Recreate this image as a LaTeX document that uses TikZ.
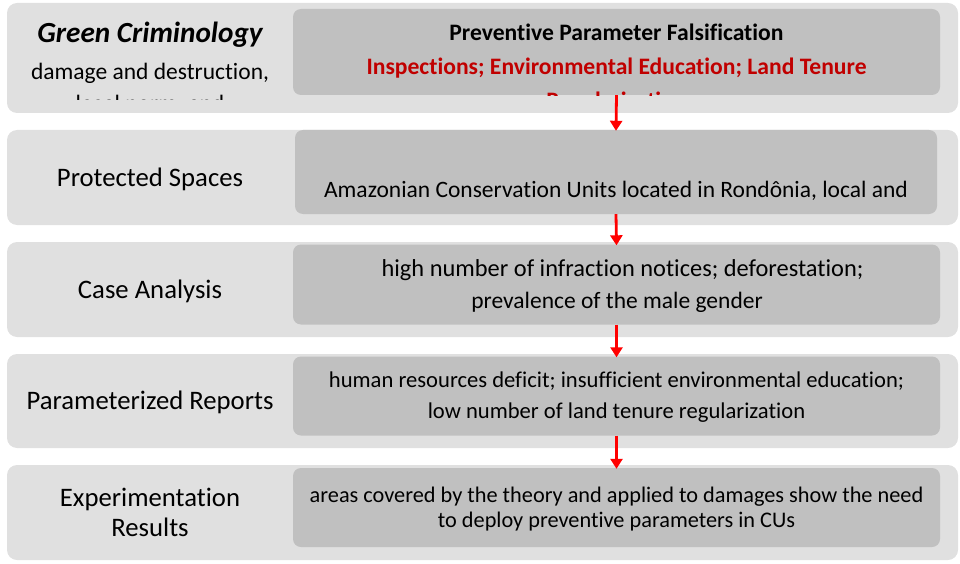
\documentclass[tikz,border=0pt]{standalone}
\usepackage{fontspec}
\setmainfont{Carlito}[Ligatures=NoCommon]
\usetikzlibrary{arrows.meta}
\definecolor{bandgray}{RGB}{224,224,224}
\definecolor{cellgray}{RGB}{192,192,192}
\definecolor{tenured}{RGB}{192,0,0}
\begin{document}
\begin{tikzpicture}[x=1pt,y=-1pt,>={Triangle[width=12pt,length=10pt]},
		band/.style={fill=bandgray,rounded corners=10pt,minimum width=951pt,inner sep=0pt},
		cell/.style={fill=cellgray,rounded corners=8pt,minimum width=647pt,inner sep=0pt},
		flow/.style={->,red,line width=2.8pt,shorten >=-1pt},
		lab/.style={font=\fontsize{26.7}{30}\selectfont,align=center,anchor=base,inner sep=0pt},
		txt/.style={font=\fontsize{23.5}{32}\selectfont,align=center,anchor=base,inner sep=0pt}]
		\useasboundingbox (0,0) rectangle (960,564);
		% bands
		\node[band,minimum height=110pt] (b1) at (482.5,58) {};
		\node[band,minimum height=95pt] (b2) at (482.5,177.5) {};
		\node[band,minimum height=95pt] (b3) at (482.5,289.5) {};
		\node[band,minimum height=94pt] (b4) at (482.5,401) {};
		\node[band,minimum height=95pt] (b5) at (482.5,512.5) {};
		% cells
		\node[cell,minimum height=86pt] (c1) at (616.5,52) {};
		\node[cell,minimum height=84pt,minimum width=642pt] (c2) at (616,172) {};
		\node[cell,minimum height=80pt] (c3) at (616.5,284.5) {};
		\node[cell,minimum height=79pt] (c4) at (616.5,396) {};
		\node[cell,minimum height=79pt] (c5) at (616.5,507.5) {};
		% row 1 (base = last line)
		\begin{scope}
			\clip (7,3) rectangle (290,100);
			\node[lab,font=\fontsize{23.5}{32}\selectfont] (t1) at (150,112) {{\fontsize{29.2}{30}\selectfont\bfseries\itshape Green Criminology}\\[5pt] damage and destruction,\\ legal norm, and};
		\end{scope}
		\begin{scope}
			\clip (c1.north west) rectangle (c1.south east);
			\node[txt,font=\bfseries\fontsize{23.6}{34}\selectfont] (s1) at (616.5,109) {Preventive Parameter Falsification\\
				\textcolor{tenured}{Inspections; Environmental Education; Land Tenure}\\
				\textcolor{tenured}{Regularization}};
		\end{scope}
		% row 2
		\node[lab] (t2) at (150,186) {Protected Spaces};
		\node[txt] (s2) at (616,197) {Amazonian Conservation Units located in Rondônia, local and};
		% row 3
		\node[lab] (t3) at (150,298) {Case Analysis};
		\node[txt] (s3) at (617,308) {{\fontsize{24.4}{32}\selectfont\hspace*{11pt}high number of infraction notices; deforestation;}\\ prevalence of the male gender};
		% row 4
		\node[lab] (t4) at (150,409) {Parameterized Reports};
		\node[txt,font=\fontsize{22.6}{31}\selectfont] (s4) at (616.5,418) {human resources deficit; insufficient environmental education;\\ low number of land tenure regularization};
		% row 5
		\node[lab] (t5) at (150,536) {Experimentation\\ Results};
		\node[txt,font=\fontsize{22.3}{25}\selectfont] (s5) at (616.5,527) {areas covered by the theory and applied to damages show the need\\ to deploy preventive parameters in CUs};
		% arrows
		\draw[flow] (c1.south) -- (c2.north);
		\draw[flow] (c2.south) -- (c3.north);
		\draw[flow] (c3.south) -- (c4.north);
		\draw[flow] (c4.south) -- (c5.north);
	\end{tikzpicture}
\end{document}
